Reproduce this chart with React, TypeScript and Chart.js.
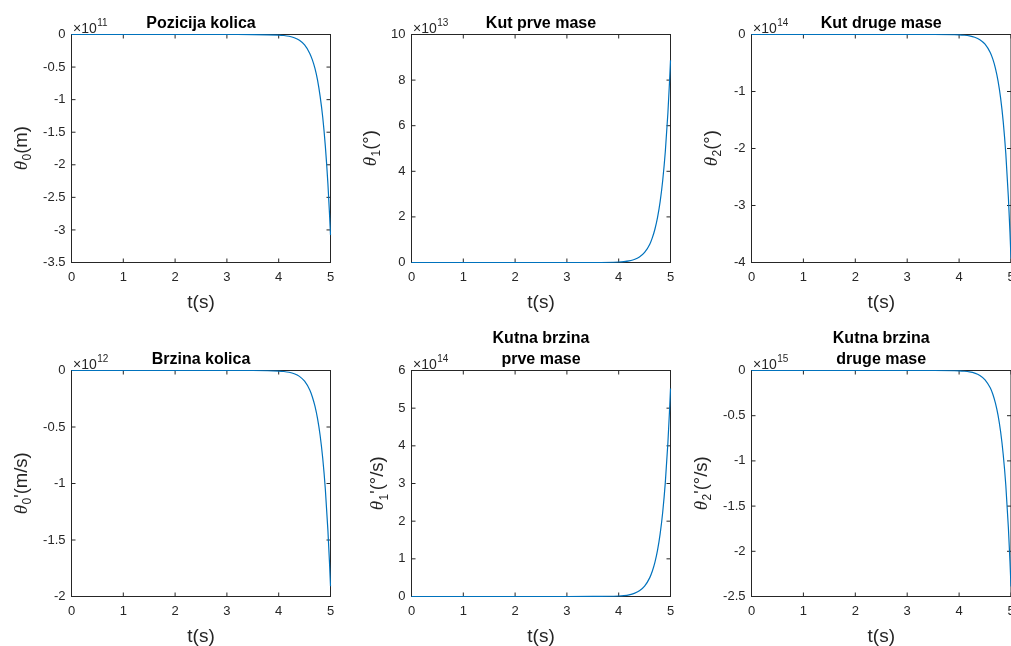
import React, { useEffect, useRef } from "react";
import { Chart, registerables } from "chart.js";

Chart.register(...registerables);

// ---------------- DATA ----------------
const timeS = [0, 0.5, 1, 1.5, 2, 2.5, 3, 3.5, 4, 4.1, 4.2, 4.3, 4.4, 4.5, 4.6, 4.65, 4.7, 4.75, 4.8, 4.85, 4.9, 4.95, 4.98, 5];

// values in units of the axis multiplier (x10^n)
const pozicijaKolica = [0, 0, 0, 0, 0, 0, 0, -0.0005, -0.0084, -0.015, -0.027, -0.049, -0.089, -0.16, -0.29, -0.39, -0.52, -0.7, -0.95, -1.27, -1.71, -2.29, -2.74, -3.08];
const kutPrveMase = [0, 0, 0, 0, 0, 0, 0, 0.001, 0.022, 0.04, 0.073, 0.133, 0.24, 0.44, 0.8, 1.09, 1.47, 1.98, 2.67, 3.61, 4.87, 6.57, 7.87, 8.87];
const kutDrugeMase = [0, 0, 0, 0, 0, 0, 0, -0.0003, -0.0072, -0.0136, -0.0254, -0.048, -0.09, -0.169, -0.316, -0.433, -0.593, -0.813, -1.115, -1.528, -2.09, -2.87, -3.47, -3.93];
const brzinaKolica = [0, 0, 0, 0, 0, 0, 0, -0.0002, -0.0047, -0.0086, -0.0157, -0.0286, -0.052, -0.095, -0.173, -0.234, -0.316, -0.426, -0.575, -0.777, -1.049, -1.415, -1.694, -1.91];
const kutnaBrzinaPrve = [0, 0, 0, 0, 0, 0, 0, 0.0007, 0.0137, 0.0249, 0.0454, 0.0828, 0.151, 0.275, 0.501, 0.676, 0.913, 1.232, 1.663, 2.245, 3.03, 4.09, 4.9, 5.52];
const kutnaBrzinaDruge = [0, 0, 0, 0, 0, 0, 0, -0.0002, -0.0044, -0.0083, -0.0155, -0.029, -0.0545, -0.1025, -0.192, -0.263, -0.361, -0.494, -0.678, -0.929, -1.27, -1.745, -2.11, -2.39];

const seriesValues = [pozicijaKolica, kutPrveMase, kutDrugeMase, brzinaKolica, kutnaBrzinaPrve, kutnaBrzinaDruge];

const subplotTitles = [
  ["Pozicija kolica"],
  ["Kut prve mase"],
  ["Kut druge mase"],
  ["Brzina kolica"],
  ["Kutna brzina", "prve mase"],
  ["Kutna brzina", "druge mase"],
];
const yMins = [-3.5, 0, -4, -2, 0, -2.5];
const yMaxs = [0, 10, 0, 0, 6, 0];
const ySteps = [0.5, 2, 1, 0.5, 1, 0.5];
const yExponents = ["11", "13", "14", "12", "14", "15"];
const ySubscripts = ["0", "1", "2", "0", "1", "2"];
const yPrimes = [false, false, false, true, true, true];
const yUnits = ["(m)", "(°)", "(°)", "(m/s)", "(°/s)", "(°/s)"];
const xMin = 0;
const xMax = 5;
const xStep = 1;
const xLabel = "t(s)";

// ---------------- LAYOUT ----------------
const W = 1011;
const H = 646;
const colLeft = [71.5, 411.5, 751.5];
const colRight = [330.5, 670.5, 1011.5];
const rowTop = [34.5, 370.5];
const rowBottom = [262.5, 596.5];
const yLabelOffset = [-45, -36, -35, -45, -28.5, -45];
const Y_AXIS_W = 40;
const X_AXIS_H = 30;
const TICK_LEN = 4;
const AX_COLOR = "#262626";
const SANS = '"Liberation Sans", Arial, Helvetica, sans-serif';

function makePlugin(i: number) {
  return {
    id: "matlabDeco" + i,
    beforeDatasetsDraw(chart: any) {
      const { ctx, chartArea } = chart;
      const { left, right, top, bottom } = chartArea;
      const xs = chart.scales.x;
      const ys = chart.scales.y;
      ctx.save();
      ctx.strokeStyle = AX_COLOR;
      ctx.lineWidth = 1;
      ctx.strokeRect(left, top, right - left, bottom - top);
      ctx.beginPath();
      for (const t of xs.ticks) {
        const px = xs.getPixelForValue(t.value);
        ctx.moveTo(px, bottom);
        ctx.lineTo(px, bottom - TICK_LEN);
        ctx.moveTo(px, top);
        ctx.lineTo(px, top + TICK_LEN);
      }
      for (const t of ys.ticks) {
        const py = ys.getPixelForValue(t.value);
        ctx.moveTo(left, py);
        ctx.lineTo(left + TICK_LEN, py);
        ctx.moveTo(right, py);
        ctx.lineTo(right - TICK_LEN, py);
      }
      ctx.stroke();
      ctx.restore();
    },
    afterDraw(chart: any) {
      const { ctx, chartArea } = chart;
      const { left, right, top, bottom } = chartArea;
      const cx = (left + right) / 2;
      const cy = (top + bottom) / 2;
      ctx.save();
      // title
      ctx.fillStyle = "#000";
      ctx.font = "bold 16px " + SANS;
      ctx.textAlign = "center";
      ctx.textBaseline = "alphabetic";
      const lines = subplotTitles[i];
      const lastBase = top - 7;
      lines.forEach((ln, k) => {
        ctx.fillText(ln, cx, lastBase - (lines.length - 1 - k) * 21);
      });
      // exponent
      ctx.fillStyle = AX_COLOR;
      ctx.textAlign = "left";
      ctx.font = "14px " + SANS;
      const ex = left + 1.5;
      const eb = top - 1.5;
      ctx.fillText("×10", ex, eb);
      const w10 = ctx.measureText("×10").width;
      ctx.font = "10px " + SANS;
      ctx.fillText(yExponents[i], ex + w10 + 0.5, eb - 7);
      // x label
      ctx.font = "19px " + SANS;
      ctx.textAlign = "center";
      ctx.textBaseline = "middle";
      ctx.fillText(xLabel, cx, bottom + 40);
      // y label (rotated)
      const parts: { t: string; f: string; dy: number }[] = [
        { t: "θ", f: 'italic 19px "Liberation Serif", serif', dy: 0 },
        { t: ySubscripts[i], f: "12px " + SANS, dy: 4.5 },
      ];
      if (yPrimes[i]) parts.push({ t: "'", f: "18px " + SANS, dy: 0 });
      parts.push({ t: yUnits[i], f: "18.5px " + SANS, dy: 0 });
      let total = 0;
      const widths = parts.map((p) => {
        ctx.font = p.f;
        const w = ctx.measureText(p.t).width;
        total += w;
        return w;
      });
      ctx.translate(left + yLabelOffset[i], cy);
      ctx.rotate(-Math.PI / 2);
      ctx.textAlign = "left";
      ctx.textBaseline = "alphabetic";
      let xx = -total / 2;
      parts.forEach((p, k) => {
        ctx.font = p.f;
        ctx.fillText(p.t, xx, p.dy);
        xx += widths[k] + (k === 0 ? 0.5 : 0);
      });
      ctx.restore();
    },
  };
}

function Subplot({ index }: { index: number }) {
  const ref = useRef<HTMLCanvasElement | null>(null);
  useEffect(() => {
    const canvas = ref.current;
    if (!canvas) return;
    const col = index % 3;
    const row = Math.floor(index / 3);
    const pl = colLeft[col];
    const pr = colRight[col];
    const pt = rowTop[row];
    const pb = rowBottom[row];
    const vals = seriesValues[index];
    const chart = new Chart(canvas, {
      type: "line",
      data: {
        datasets: [
          {
            data: timeS.map((t, k) => ({ x: t, y: vals[k] })),
            borderColor: "#0072BD",
            borderWidth: 1.2,
            pointRadius: 0,
            fill: false,
            cubicInterpolationMode: "monotone",
            clip: 3,
          } as any,
        ],
      },
      options: {
        responsive: false,
        animation: false,
        devicePixelRatio: 1,
        events: [],
        layout: {
          padding: {
            left: pl - Y_AXIS_W,
            top: pt,
            right: W - pr,
            bottom: H - pb - X_AXIS_H,
          },
        },
        plugins: {
          legend: { display: false },
          tooltip: { enabled: false },
          title: { display: false },
        },
        scales: {
          x: {
            type: "linear",
            min: xMin,
            max: xMax,
            grid: { display: false, drawTicks: false },
            border: { display: false },
            ticks: {
              stepSize: xStep,
              autoSkip: false,
              maxRotation: 0,
              padding: 7.5,
              color: AX_COLOR,
              font: { family: "Liberation Sans", size: 13 },
              callback: (v: any) => String(Math.round(Number(v) * 1000) / 1000),
            },
            afterFit: (s: any) => {
              s.height = X_AXIS_H;
              s.paddingLeft = 0;
              s.paddingRight = 0;
            },
          },
          y: {
            type: "linear",
            min: yMins[index],
            max: yMaxs[index],
            grid: { display: false, drawTicks: false },
            border: { display: false },
            ticks: {
              stepSize: ySteps[index],
              autoSkip: false,
              padding: 6,
              color: AX_COLOR,
              font: { family: "Liberation Sans", size: 13 },
              callback: (v: any) => String(Math.round(Number(v) * 1000) / 1000),
            },
            afterFit: (s: any) => {
              s.width = Y_AXIS_W;
              s.paddingTop = 0;
              s.paddingBottom = 0;
            },
          },
        },
      } as any,
      plugins: [makePlugin(index)],
    });
    return () => chart.destroy();
  }, [index]);
  return (
    <canvas
      ref={ref}
      width={W}
      height={H}
      style={{ position: "absolute", left: 0, top: 0, width: W, height: H }}
    />
  );
}

export default function App() {
  return (
    <div
      style={{
        position: "fixed",
        left: 0,
        top: 0,
        width: W,
        height: H,
        background: "#fff",
        overflow: "hidden",
      }}
    >
      {[0, 1, 2, 3, 4, 5].map((i) => (
        <Subplot key={i} index={i} />
      ))}
    </div>
  );
}
